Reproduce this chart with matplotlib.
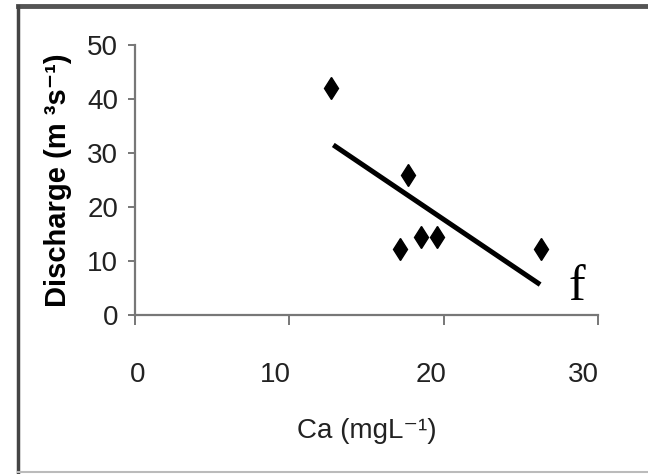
import matplotlib
matplotlib.use("Agg")
import matplotlib.pyplot as plt
from matplotlib import font_manager
from matplotlib.transforms import ScaledTranslation
from matplotlib.lines import Line2D
import numpy as np

# ---- data ----
ca = [12.7, 17.2, 17.7, 18.5, 19.6, 26.3]
discharge = [42.0, 12.3, 26.0, 14.5, 14.5, 12.3]
xticks = [0, 10, 20, 30]
yticks = [0, 10, 20, 30, 40, 50]
panel_label = "f"

names = {f.name for f in font_manager.fontManager.ttflist}
narrow = "Liberation Sans Narrow" if "Liberation Sans Narrow" in names else "Liberation Sans"
tick_size = 23 if narrow == "Liberation Sans Narrow" else 20

fig = plt.figure(figsize=(6.48, 4.74), dpi=100)
fig.patch.set_facecolor("white")
ax = fig.add_axes([135 / 648, 1 - 315 / 474, (598 - 135) / 648, (315 - 45) / 474])

ax.plot(ca, discharge, linestyle="none", marker="d", markersize=11.2,
        color="black", zorder=3)

coef = np.polyfit(ca, discharge, 1)
xl = np.array([min(ca) + 0.15, max(ca) - 0.05])
ax.plot(xl, np.polyval(coef, xl), color="black", linewidth=3.6,
        solid_capstyle="butt", zorder=2)

ax.set_xlim(0, 30)
ax.set_ylim(0, 50)
ax.set_xticks(xticks)
ax.set_yticks(yticks)
ax.set_xticklabels([str(v) for v in xticks])
ax.set_yticklabels([str(v) for v in yticks])

for s in ["top", "right"]:
    ax.spines[s].set_visible(False)
for s in ["left", "bottom"]:
    ax.spines[s].set_color("#777777")
    ax.spines[s].set_linewidth(1.6)

ax.tick_params(axis="y", direction="out", length=5, width=1.4, color="#777777",
               pad=7, labelsize=tick_size, labelcolor="#222222")
ax.tick_params(axis="x", direction="out", length=7, width=1.4, color="#777777",
               pad=27, labelsize=tick_size, labelcolor="#222222")
for lab in ax.get_xticklabels() + ax.get_yticklabels():
    lab.set_fontfamily(narrow)

x_offsets = [3, -14, -13, -15]
for lab, dx in zip(ax.get_xticklabels(), x_offsets):
    lab.set_transform(lab.get_transform() + ScaledTranslation(dx / 100, 0, fig.dpi_scale_trans))

ax.set_xlabel("Ca (mgL\u207b\u00b9)", fontsize=tick_size,
              family=[narrow, "DejaVu Sans"], color="#222222")
ax.xaxis.set_label_coords(0.5, (315 - 418) / 270)
ax.set_ylabel("Discharge (m \u00b3s\u207b\u00b9)", fontsize=21, fontweight="bold",
              family=["Liberation Sans", "DejaVu Sans"], color="black")
ax.yaxis.set_label_coords((72 - 135) / 463, 0.5)

ax.text((577 - 135) / 463, (315 - 300) / 270, panel_label, transform=ax.transAxes,
        ha="center", va="baseline", fontsize=36, family="Liberation Serif",
        color="black")

# outer frame
fig.add_artist(Line2D([18 / 648, 1.0], [1 - 6 / 474, 1 - 6 / 474],
                      transform=fig.transFigure, color="#555555", linewidth=3.5))
fig.add_artist(Line2D([18 / 648, 18 / 648], [1 - 6 / 474, 1 - 472 / 474],
                      transform=fig.transFigure, color="#444444", linewidth=2.5))
fig.add_artist(Line2D([18 / 648, 1.0], [1 - 472 / 474, 1 - 472 / 474],
                      transform=fig.transFigure, color="#bbbbbb", linewidth=1.5))

fig.savefig("out.png", dpi=100, facecolor="white")
